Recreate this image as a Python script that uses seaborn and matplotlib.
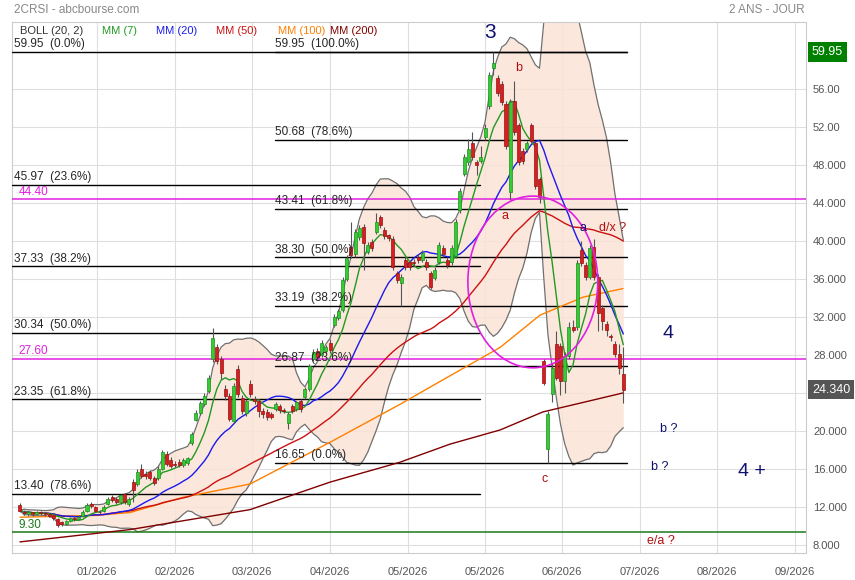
import numpy as np
import pandas as pd
import matplotlib
matplotlib.use('Agg')
import matplotlib.pyplot as plt
import matplotlib.transforms as mtransforms
from matplotlib.patches import Ellipse
import seaborn as sns

# daily candles
opens = [12.2, 11.5, 11.2, 11.4, 11.2, 11.4, 11.3, 11.2, 11.1, 10.7,
         10.4, 10.2, 10.5, 10.8, 10.7, 11.0, 11.6, 12.3, 12.0, 11.5,
         11.6, 12.3, 13.0, 12.8, 12.5, 13.3, 12.3, 14.6, 14.4, 16.0,
         15.5, 15.7, 15.0, 15.0, 16.0, 17.6, 16.9, 16.5, 16.7, 16.4,
         16.6, 18.7, 21.2, 21.9, 22.8, 24.2, 27.6, 28.8, 27.6, 24.4,
         23.7, 21.0, 26.5, 23.5, 21.9, 24.9, 23.4, 23.1, 22.1, 22.0,
         21.8, 22.3, 22.6, 22.2, 20.8, 22.6, 22.3, 23.2, 23.6, 24.4,
         27.6, 28.4, 28.0, 28.4, 29.3, 31.2, 31.9, 32.7, 36.0, 39.4,
         38.6, 40.4, 41.5, 38.9, 39.9, 41.0, 42.5, 41.2, 40.6, 40.2,
         36.6, 35.6, 38.0, 37.8, 37.8, 38.3, 38.0, 37.8, 36.6, 36.1,
         37.8, 39.3, 38.0, 37.8, 38.4, 43.3, 47.1, 48.3, 50.3, 48.3,
         48.4, 51.0, 54.2, 58.3, 57.2, 56.6, 54.5, 45.2, 54.8, 52.2,
         49.5, 49.7, 52.2, 50.3, 46.5, 27.4, 18.1, 23.9, 29.2, 29.0,
         25.3, 27.9, 30.9, 30.9, 39.1, 37.5, 36.2, 39.4, 36.2, 33.0,
         31.3, 30.0, 29.2, 28.1, 26.0]
closes = [11.6, 11.3, 11.4, 11.2, 11.4, 11.3, 11.2, 11.0, 10.8, 10.1,
          10.2, 10.5, 10.8, 10.7, 10.9, 11.5, 12.2, 12.1, 11.6, 11.4,
          12.0, 12.8, 12.7, 12.5, 13.2, 12.5, 12.8, 13.8, 15.7, 15.2,
          15.2, 15.0, 14.5, 16.0, 17.8, 16.5, 16.3, 16.4, 16.4, 16.9,
          17.1, 19.7, 21.9, 22.9, 23.7, 25.6, 29.8, 27.4, 26.1, 23.7,
          21.3, 24.7, 23.9, 22.1, 23.1, 23.9, 23.1, 22.1, 21.8, 21.5,
          21.5, 22.8, 22.2, 22.1, 21.8, 22.1, 23.0, 22.3, 24.4, 26.8,
          28.3, 27.8, 29.3, 28.8, 28.5, 32.0, 32.6, 35.9, 38.2, 38.5,
          41.0, 41.4, 39.8, 39.6, 39.3, 42.0, 41.7, 40.5, 40.3, 37.3,
          35.9, 36.2, 37.3, 37.3, 37.7, 38.0, 38.8, 37.3, 35.2, 37.0,
          39.6, 38.6, 37.5, 39.3, 42.0, 45.3, 48.9, 49.7, 48.9, 48.0,
          48.9, 51.9, 57.5, 58.8, 55.6, 54.7, 50.0, 54.7, 51.5, 48.3,
          48.4, 50.3, 50.6, 45.8, 44.7, 25.0, 21.8, 26.6, 25.6, 25.3,
          27.9, 30.9, 30.6, 37.7, 37.7, 36.2, 39.3, 36.2, 32.4, 31.6,
          30.6, 29.9, 28.1, 26.6, 24.34]
highs = [12.4, 11.7, 11.6, 11.5, 11.6, 11.6, 11.5, 11.3, 11.2, 10.8,
         10.5, 10.6, 10.9, 11.0, 11.1, 11.7, 12.4, 12.5, 12.1, 11.7,
         12.2, 13.0, 13.2, 13.0, 13.4, 13.5, 13.0, 14.9, 16.0, 16.5,
         15.8, 15.9, 15.2, 16.3, 18.0, 17.9, 17.2, 16.8, 17.0, 17.1,
         17.3, 19.9, 22.2, 23.1, 24.0, 25.9, 30.8, 29.2, 27.9, 24.8,
         24.0, 25.0, 26.9, 23.8, 23.4, 25.4, 23.7, 23.4, 22.4, 22.3,
         22.0, 23.0, 22.8, 22.4, 22.0, 22.8, 23.2, 23.4, 24.6, 27.0,
         28.6, 28.7, 29.6, 29.1, 29.7, 32.3, 32.9, 36.2, 38.5, 42.0,
         41.3, 41.7, 41.8, 39.9, 40.2, 43.0, 42.8, 41.5, 40.8, 40.5,
         36.9, 36.5, 38.3, 38.0, 38.1, 38.6, 39.1, 38.1, 36.9, 37.3,
         39.9, 39.6, 38.3, 39.6, 42.3, 45.6, 49.2, 50.8, 51.5, 48.6,
         50.0, 52.3, 57.8, 59.95, 57.5, 56.9, 54.8, 55.0, 56.9, 52.5,
         49.8, 50.6, 52.5, 50.6, 46.8, 27.6, 22.1, 27.2, 30.5, 29.3,
         28.3, 31.5, 31.7, 38.0, 40.0, 37.8, 39.6, 40.2, 36.5, 33.3,
         31.6, 30.2, 29.5, 29.2, 28.8]
lows = [11.4, 11.1, 11.0, 11.0, 11.1, 11.1, 11.0, 10.9, 10.6, 9.9,
        10.0, 10.1, 10.4, 10.5, 10.6, 10.9, 11.5, 11.9, 11.4, 11.2,
        11.5, 12.2, 12.5, 12.3, 12.3, 12.3, 12.1, 12.5, 14.2, 15.0,
        14.9, 14.8, 14.3, 14.8, 15.9, 16.3, 16.1, 16.2, 16.2, 16.2,
        16.4, 18.5, 21.0, 21.7, 22.6, 24.0, 27.3, 27.0, 25.5, 23.3,
        21.0, 20.8, 23.6, 21.8, 21.6, 23.6, 22.8, 21.5, 21.4, 21.2,
        21.3, 22.1, 21.9, 21.9, 20.2, 21.9, 22.1, 22.0, 23.4, 24.2,
        27.4, 27.5, 27.8, 28.2, 28.2, 31.0, 31.7, 32.5, 35.8, 38.2,
        38.3, 40.1, 37.0, 38.6, 39.0, 40.8, 41.4, 40.2, 40.0, 37.0,
        35.6, 33.2, 37.0, 37.0, 37.4, 37.7, 37.8, 37.0, 35.0, 35.9,
        37.6, 38.3, 37.2, 37.5, 38.2, 43.0, 46.9, 48.0, 48.6, 47.0,
        48.2, 50.7, 53.9, 57.5, 55.3, 54.4, 49.7, 44.3, 51.2, 48.0,
        48.1, 49.4, 50.3, 45.5, 44.0, 24.8, 16.65, 23.0, 25.4, 23.8,
        24.0, 27.6, 30.4, 30.6, 37.4, 35.9, 36.0, 35.9, 30.5, 30.6,
        30.0, 29.5, 27.8, 26.0, 22.9]

# long moving averages need history before the window
ma_idx = [0, 18.4, 26.3, 38.9, 54.9, 74.0, 90.7, 102.6, 114.6, 124.1, 134.4, 143.9]
ma100 = [10.9, 11.1, 11.4, 13.0, 14.4, 18.8, 22.8, 25.8, 28.8, 32.2, 34.1, 35.0]
ma200_idx = [0, 26.3, 54.9, 74.0, 90.7, 102.6, 114.6, 124.8, 134.4, 143.9]
ma200 = [8.3, 9.6, 11.7, 14.6, 16.7, 18.6, 20.1, 22.0, 23.0, 24.0]

# fibonacci retracements
fib_left_vals = [59.95, 45.97, 37.33, 30.34, 23.35, 13.40]
fib_left_pcts = ['0.0%', '23.6%', '38.2%', '50.0%', '61.8%', '78.6%']
fib_right_vals = [59.95, 50.68, 43.41, 38.30, 33.19, 26.87, 16.65]
fib_right_pcts = ['100.0%', '78.6%', '61.8%', '50.0%', '38.2%', '23.6%', '0.0%']
magenta_levels = [44.40, 27.60]
green_level = 9.30

month_ticks = [18.4, 37.0, 55.4, 74.0, 92.6, 111.0, 129.4, 148.0, 166.4, 185.0]
month_labels = ['01/2026', '02/2026', '03/2026', '04/2026', '05/2026',
                '05/2026', '06/2026', '07/2026', '08/2026', '09/2026']
y_ticks = [8, 12, 16, 20, 24, 28, 32, 36, 40, 44, 48, 52, 56]
y_labels = ['8.000', '12.000', '16.000', '20.000', '', '28.000', '32.000',
            '36.000', '40.000', '44.000', '48.000', '52.00', '56.00']

# wave labels: text, x, y, colour, size
waves = [('3', 112.2, 62.0, '#101070', 15), ('b', 119.1, 58.3, '#b01010', 9),
         ('a', 115.8, 42.6, '#b01010', 9), ('a', 134.4, 41.4, '#101070', 9),
         ('d/x ?', 141.5, 41.4, '#b01010', 9), ('4', 154.7, 30.3, '#101070', 14),
         ('b ?', 154.9, 20.2, '#101070', 9), ('b ?', 152.7, 16.2, '#101070', 9),
         ('4 +', 174.7, 15.7, '#101070', 14), ('c', 125.1, 14.9, '#b01010', 9),
         ('e/a ?', 153.0, 8.4, '#b01010', 9)]

sns.set_style('white')
plt.rcParams['font.family'] = ['Liberation Sans', 'DejaVu Sans']

df = pd.DataFrame({'idx': np.arange(len(closes)), 'open': opens, 'close': closes,
                   'high': highs, 'low': lows})
df['mm7'] = df['close'].rolling(7, min_periods=1).mean()
df['mm20'] = df['close'].rolling(20, min_periods=1).mean()
df['mm50'] = df['close'].rolling(50, min_periods=1).mean()
sd = df['close'].rolling(20, min_periods=1).std(ddof=0).fillna(0)
df['bb_up'] = df['mm20'] + 2 * sd
df['bb_lo'] = df['mm20'] - 2 * sd

fig = plt.figure(figsize=(8.55, 5.8), dpi=100)
ax = fig.add_axes([12 / 855, 27 / 580, 794 / 855, 531 / 580])
ax.set_xlim(-1.9, 187.6)
ax.set_ylim(7.13, 63.1)

ax.set_yticks(y_ticks)
ax.set_yticklabels(y_labels)
ax.yaxis.tick_right()
ax.set_xticks(month_ticks)
ax.set_xticklabels(month_labels)
ax.tick_params(axis='both', length=0, labelsize=8, labelcolor='#555555')
ax.tick_params(axis='x', pad=10)
ax.tick_params(axis='y', pad=5)
ax.grid(True, color='#dedede', lw=0.8, zorder=0)
ax.set_axisbelow(True)
for s in ax.spines.values():
    s.set_color('#cccccc')
    s.set_linewidth(0.8)

# bollinger
ax.fill_between(df['idx'], df['bb_lo'], df['bb_up'], color='#fbe3d6', alpha=0.85, lw=0, zorder=1)
sns.lineplot(data=df, x='idx', y='bb_up', color='#707070', lw=0.9, ax=ax, zorder=2)
sns.lineplot(data=df, x='idx', y='bb_lo', color='#707070', lw=0.9, ax=ax, zorder=2)

# horizontal levels
trans = mtransforms.blended_transform_factory(ax.transAxes, ax.transData)
for v in magenta_levels:
    ax.axhline(v, color='#e020e0', lw=1.1, zorder=3)
    ax.annotate(f'{v:.2f}', (0.008, v), xycoords=trans, xytext=(0, 1), textcoords='offset points',
                color='#e020e0', fontsize=8.5, va='bottom', zorder=6)
ax.axhline(green_level, color='#1a7a1a', lw=1.1, zorder=3)
ax.annotate(f'{green_level:.2f}', (0.008, green_level), xycoords=trans, xytext=(0, 1),
            textcoords='offset points', color='#1a7a1a', fontsize=8.5, va='bottom', zorder=6)

for v, p in zip(fib_left_vals, fib_left_pcts):
    end = 144.9 if v == fib_left_vals[0] else 109.8
    ax.plot([-1.9, end], [v, v], color='black', lw=1, zorder=3)
    ax.annotate(f'{v:.2f}  ({p})', (-1.4, v), xytext=(0, 1), textcoords='offset points',
                fontsize=8.5, va='bottom', zorder=6)
for v, p in zip(fib_right_vals, fib_right_pcts):
    ax.plot([60.9, 144.9], [v, v], color='black', lw=1, zorder=3)
    ax.annotate(f'{v:.2f}  ({p})', (60.9, v), xytext=(0, 1), textcoords='offset points',
                fontsize=8.5, va='bottom', zorder=6)

# moving averages
sns.lineplot(x=ma200_idx, y=ma200, color='#800000', lw=1, ax=ax, zorder=4)
sns.lineplot(x=ma_idx, y=ma100, color='#ff8000', lw=1, ax=ax, zorder=4)
sns.lineplot(data=df, x='idx', y='mm50', color='#cc1111', lw=1, ax=ax, zorder=4)
sns.lineplot(data=df, x='idx', y='mm20', color='#1a1aee', lw=1, ax=ax, zorder=4)
sns.lineplot(data=df, x='idx', y='mm7', color='#229922', lw=1, ax=ax, zorder=4)

# candles
up = df['close'] >= df['open']
ax.vlines(df['idx'], df['low'], df['high'], color='#555555', lw=0.8, zorder=5)
body_lo = np.minimum(df['open'], df['close'])
body_h = np.maximum((df['close'] - df['open']).abs(), 0.1)
ax.bar(df['idx'][up], body_h[up], bottom=body_lo[up], width=0.72,
       color='#33cc33', edgecolor='#1f8f1f', lw=0.5, zorder=5)
ax.bar(df['idx'][~up], body_h[~up], bottom=body_lo[~up], width=0.72,
       color='#d42020', edgecolor='#9a1010', lw=0.5, zorder=5)

# magenta ellipse
ax.add_patch(Ellipse((122.4, 35.7), 31.0, 18.1, fill=False, ec='#e020e0', lw=1.2, zorder=6))

for t, x, y, c, fs in waves:
    ax.text(x, y, t, color=c, fontsize=fs, ha='center', va='center', zorder=7)

ax.set_xlabel('')
ax.set_ylabel('')

# price boxes on the right scale
ax.text(1.0075, 59.95, '59.95', transform=trans, color='white', fontsize=9, va='center', ha='left',
        bbox=dict(boxstyle='square,pad=0.3', fc='#008000', ec='none'))
ax.text(1.0075, 24.34, '24.340', transform=trans, color='white', fontsize=9, va='center', ha='left',
        bbox=dict(boxstyle='square,pad=0.3', fc='#555555', ec='none'))

# header and indicator legend
fig.text(14 / 855, 1 - 10 / 580, '2CRSI - abcbourse.com', color='#888888', fontsize=8.5, va='center')
fig.text(805 / 855, 1 - 10 / 580, '2 ANS - JOUR', color='#888888', fontsize=8.5, va='center', ha='right')
legend = [('BOLL (20, 2)', '#333333', 20), ('MM (7)', '#229922', 102), ('MM (20)', '#1a1aee', 156),
          ('MM (50)', '#cc1111', 216), ('MM (100)', '#ff8000', 278), ('MM (200)', '#800000', 330)]
for t, c, x in legend:
    fig.text(x / 855, 1 - 31 / 580, t, color=c, fontsize=8, va='center')

fig.savefig('out.png', dpi=100)
